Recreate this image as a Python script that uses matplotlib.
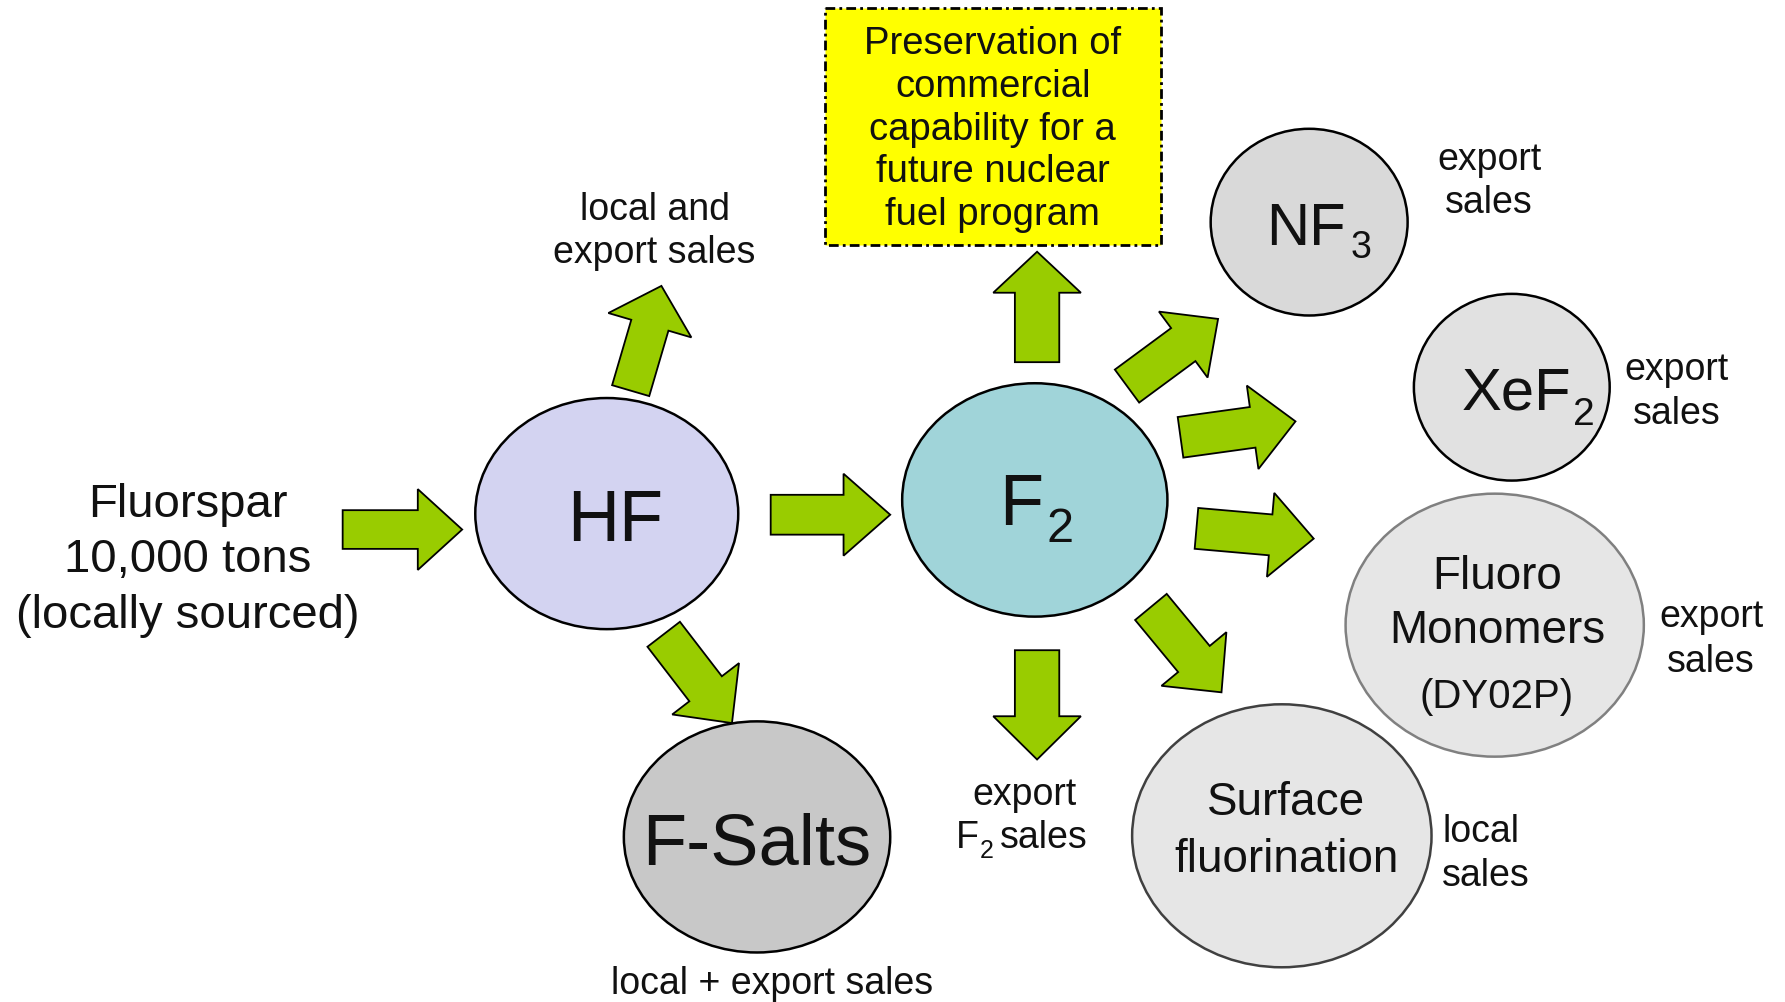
import matplotlib
matplotlib.use("Agg")
import matplotlib.pyplot as plt
from matplotlib.patches import Ellipse, FancyArrow, Rectangle

plt.rcParams['font.family'] = ['Liberation Sans', 'DejaVu Sans']

# ---- content ----
source_lines = ["Fluorspar", "10,000 tons", "(locally sourced)"]
# node labels as (main part, subscript)
node_hf = ("HF", "")
node_f2 = ("F", "2")
node_salts = ("F-Salts", "")
node_nf3 = ("NF", "3")
node_xef2 = ("XeF", "2")
fluoro_lines = ["Fluoro", "Monomers", "(DY02P)"]
surface_lines = ["Surface", "fluorination"]
box_lines = ["Preservation of", "commercial", "capability for a",
             "future nuclear", "fuel program"]
sales_hf = ["local and", "export sales"]
sales_salts = ["local + export sales"]
sales_f2 = ["export", ("F", "2", "sales")]
sales_nf3 = ["export", "sales"]
sales_xef2 = ["export", "sales"]
sales_fluoro = ["export", "sales"]
sales_surface = ["local", "sales"]

GREEN = "#99CC00"
TXT = "#111111"

fig = plt.figure(figsize=(17.85, 10.03), dpi=100)
ax = fig.add_axes([0, 0, 1, 1])
ax.set_xlim(0, 1568)
ax.set_ylim(881, 0)
ax.axis('off')


def ellipse(cx, cy, w, h, fc, ec="black", lw=1.8):
    ax.add_patch(Ellipse((cx, cy), w, h, facecolor=fc, edgecolor=ec, lw=lw, zorder=2))


def arrow(tail, tip, shaft=36, head=74, hlen=38):
    dx, dy = tip[0] - tail[0], tip[1] - tail[1]
    ax.add_patch(FancyArrow(tail[0], tail[1], dx, dy, width=shaft, head_width=head,
                            head_length=hlen, length_includes_head=True,
                            facecolor=GREEN, edgecolor="black", lw=1.3, zorder=3))


def txt(x, y, s, size, ha='center'):
    ax.text(x, y, s, fontsize=size, ha=ha, va='baseline', color=TXT, zorder=5)


def lines(x, baselines, texts, size, ha='center'):
    for y, t in zip(baselines, texts):
        txt(x, y, t, size, ha)


def formula(split_x, base_y, parts, size, sub_size, drop, gap=2):
    main, sub = parts
    txt(split_x, base_y, main, size, ha='right')
    txt(split_x + gap, base_y + drop, sub, sub_size, ha='left')


# ---- ellipses ----
ellipse(533, 452, 231, 203, "#D3D3F1")          # HF
ellipse(909, 440, 233, 205, "#A0D4D9")          # F2
ellipse(665, 736, 234, 203, "#C8C8C8")          # F-Salts
ellipse(1150, 196, 173, 164, "#D9D9D9")         # NF3
ellipse(1328, 341, 172, 164, "#E1E1E1")         # XeF2
ellipse(1313, 550, 262, 231, "#E6E6E6", ec="#808080")   # Fluoro monomers
ellipse(1126, 735, 263, 231, "#E6E6E6", ec="#404040")   # Surface fluorination

# ---- yellow box ----
ax.add_patch(Rectangle((725, 8), 295, 208, facecolor="#FFFF00", edgecolor="black",
                       lw=2.0, linestyle=(0, (3.5, 1.5, 1, 1.5)), zorder=2))

# ---- arrows ----
arrow((301, 466), (406, 466), shaft=34, head=71, hlen=39)
arrow((677, 453), (782, 453), shaft=35, head=72, hlen=41)
arrow((554, 344), (581, 252), shaft=34, head=76, hlen=36)
arrow((583, 558), (643, 636), shaft=36, head=74, hlen=38)
arrow((911, 319), (911, 222), shaft=39, head=77, hlen=36)
arrow((911, 572), (911, 668), shaft=39, head=77, hlen=38)
arrow((990, 340), (1070, 281), shaft=36, head=72, hlen=38)
arrow((1037, 385), (1138, 371), shaft=36, head=74, hlen=38)
arrow((1051, 465), (1154, 474), shaft=36, head=74, hlen=38)
arrow((1011, 534), (1073, 609), shaft=36, head=74, hlen=38)

# ---- texts ----
lines(165, [454, 502, 552], source_lines, 34)
txt(540, 475, node_hf[0], 52)
formula(916, 461, node_f2, 52, 35, 15, gap=3)
txt(665, 759, node_salts[0], 52)
formula(1182, 215, node_nf3, 43, 27, 12, gap=4)
formula(1380, 360, node_xef2, 43, 28, 13, gap=2)

lines(1315, [517, 565], fluoro_lines[:2], 33)
lines(1315, [622], fluoro_lines[2:], 29)
lines(1130, [716, 766], surface_lines, 33)
lines(872, [47, 85, 123, 160, 198], box_lines, 27.5)

lines(575, [193, 231], sales_hf, 27)
lines(678, [873], sales_salts, 27)
txt(900, 707, sales_f2[0], 27)
f_main, f_sub, f_rest = sales_f2[1]
txt(860, 745, f_main, 27, ha='right')
txt(861, 754, f_sub, 18, ha='left')
txt(878, 745, f_rest, 27, ha='left')
lines(1308, [149, 187], sales_nf3, 27)
lines(1473, [334, 372], sales_xef2, 27)
lines(1503, [551, 590], sales_fluoro, 27)
lines(1267, [740, 778], sales_surface, 27, ha='left')

fig.savefig("out.png", dpi=100, facecolor="white")
